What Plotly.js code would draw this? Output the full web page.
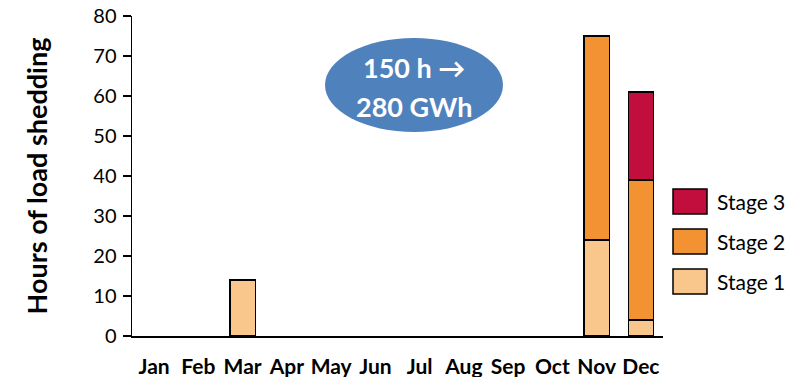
<!DOCTYPE html>
<html><head><meta charset="utf-8">
<script src="https://cdn.plot.ly/plotly-3.0.1.min.js"></script>
<style>html,body{margin:0;padding:0;background:#fff}#c{width:800px;height:377px}</style>
</head><body><div id="c"></div>
<script>
const months = ["Jan","Feb","Mar","Apr","May","Jun","Jul","Aug","Sep","Oct","Nov","Dec"];
const stage1 = [0,0,14,0,0,0,0,0,0,0,24,4];
const stage2 = [0,0,0,0,0,0,0,0,0,0,51,35];
const stage3 = [0,0,0,0,0,0,0,0,0,0,0,22];
const seriesNames = ["Stage 1","Stage 2","Stage 3"];
const seriesColors = ["#F9C68B","#F39233","#C20E3C"];
const noteLines = ["150 h \u2192","280 GWh"];

const F = "Lato, 'Open Sans', sans-serif";
const series = [stage1, stage2, stage3];
const traces = series.map((v,i)=>({
  type:"bar", x:months, y:v.map(d=>d===0?null:d), name:seriesNames[i],
  marker:{color:seriesColors[i], line:{color:"#000", width:1.3}},
  width:0.57, showlegend:false, hoverinfo:"skip"
}));

const px = x => (x-132)/531, py = y => (336-y)/320;
const shapes = [{type:"circle", xref:"paper", yref:"paper",
  x0:px(325), x1:px(503), y0:py(132), y1:py(38),
  fillcolor:"#4F81BD", line:{width:0}, layer:"above"}];
const annotations = noteLines.map((t,i)=>({xref:"paper", yref:"paper", x:px(414), y:py(67+i*39),
  text:t, showarrow:false, font:{family:F, size:27, color:"#fff", weight:"bold"},
  xanchor:"center", yanchor:"middle"}));
// legend (reverse order, top = Stage 3)
[2,1,0].forEach((si,k)=>{
  const top = 189 + k*40;
  shapes.push({type:"rect", xref:"paper", yref:"paper",
    x0:px(673), x1:px(707), y0:py(top+25), y1:py(top),
    fillcolor:seriesColors[si], line:{color:"#000", width:1.5}});
  annotations.push({xref:"paper", yref:"paper", x:px(715), y:py(top+12),
    text:seriesNames[si], showarrow:false, xanchor:"left", yanchor:"middle",
    font:{family:F, size:21, color:"#000"}});
});

const layout = {
  width:800, height:377, barmode:"stack", bargap:0.43,
  margin:{l:132, r:137, t:16, b:41},
  paper_bgcolor:"#fff", plot_bgcolor:"#fff",
  font:{family:F, color:"#000"},
  xaxis:{type:"category", showline:true, linecolor:"#000", linewidth:1.5, ticks:"",
    tickfont:{family:F, size:21, weight:"bold"}, ticklabelstandoff:11, showgrid:false, zeroline:false, fixedrange:true},
  yaxis:{range:[0,80], dtick:10, showline:true, linecolor:"#000", linewidth:1.5,
    ticks:"outside", ticklen:8, tickwidth:1.5, tickcolor:"#000", showgrid:false, zeroline:false,
    tickfont:{family:F, size:20}, ticklabelstandoff:2,
    title:{text:"Hours of load shedding", font:{family:F, size:27, weight:"bold"}, standoff:38}},
  shapes:shapes, annotations:annotations
};
Plotly.newPlot("c", traces, layout, {displayModeBar:false, staticPlot:true});
</script></body></html>
